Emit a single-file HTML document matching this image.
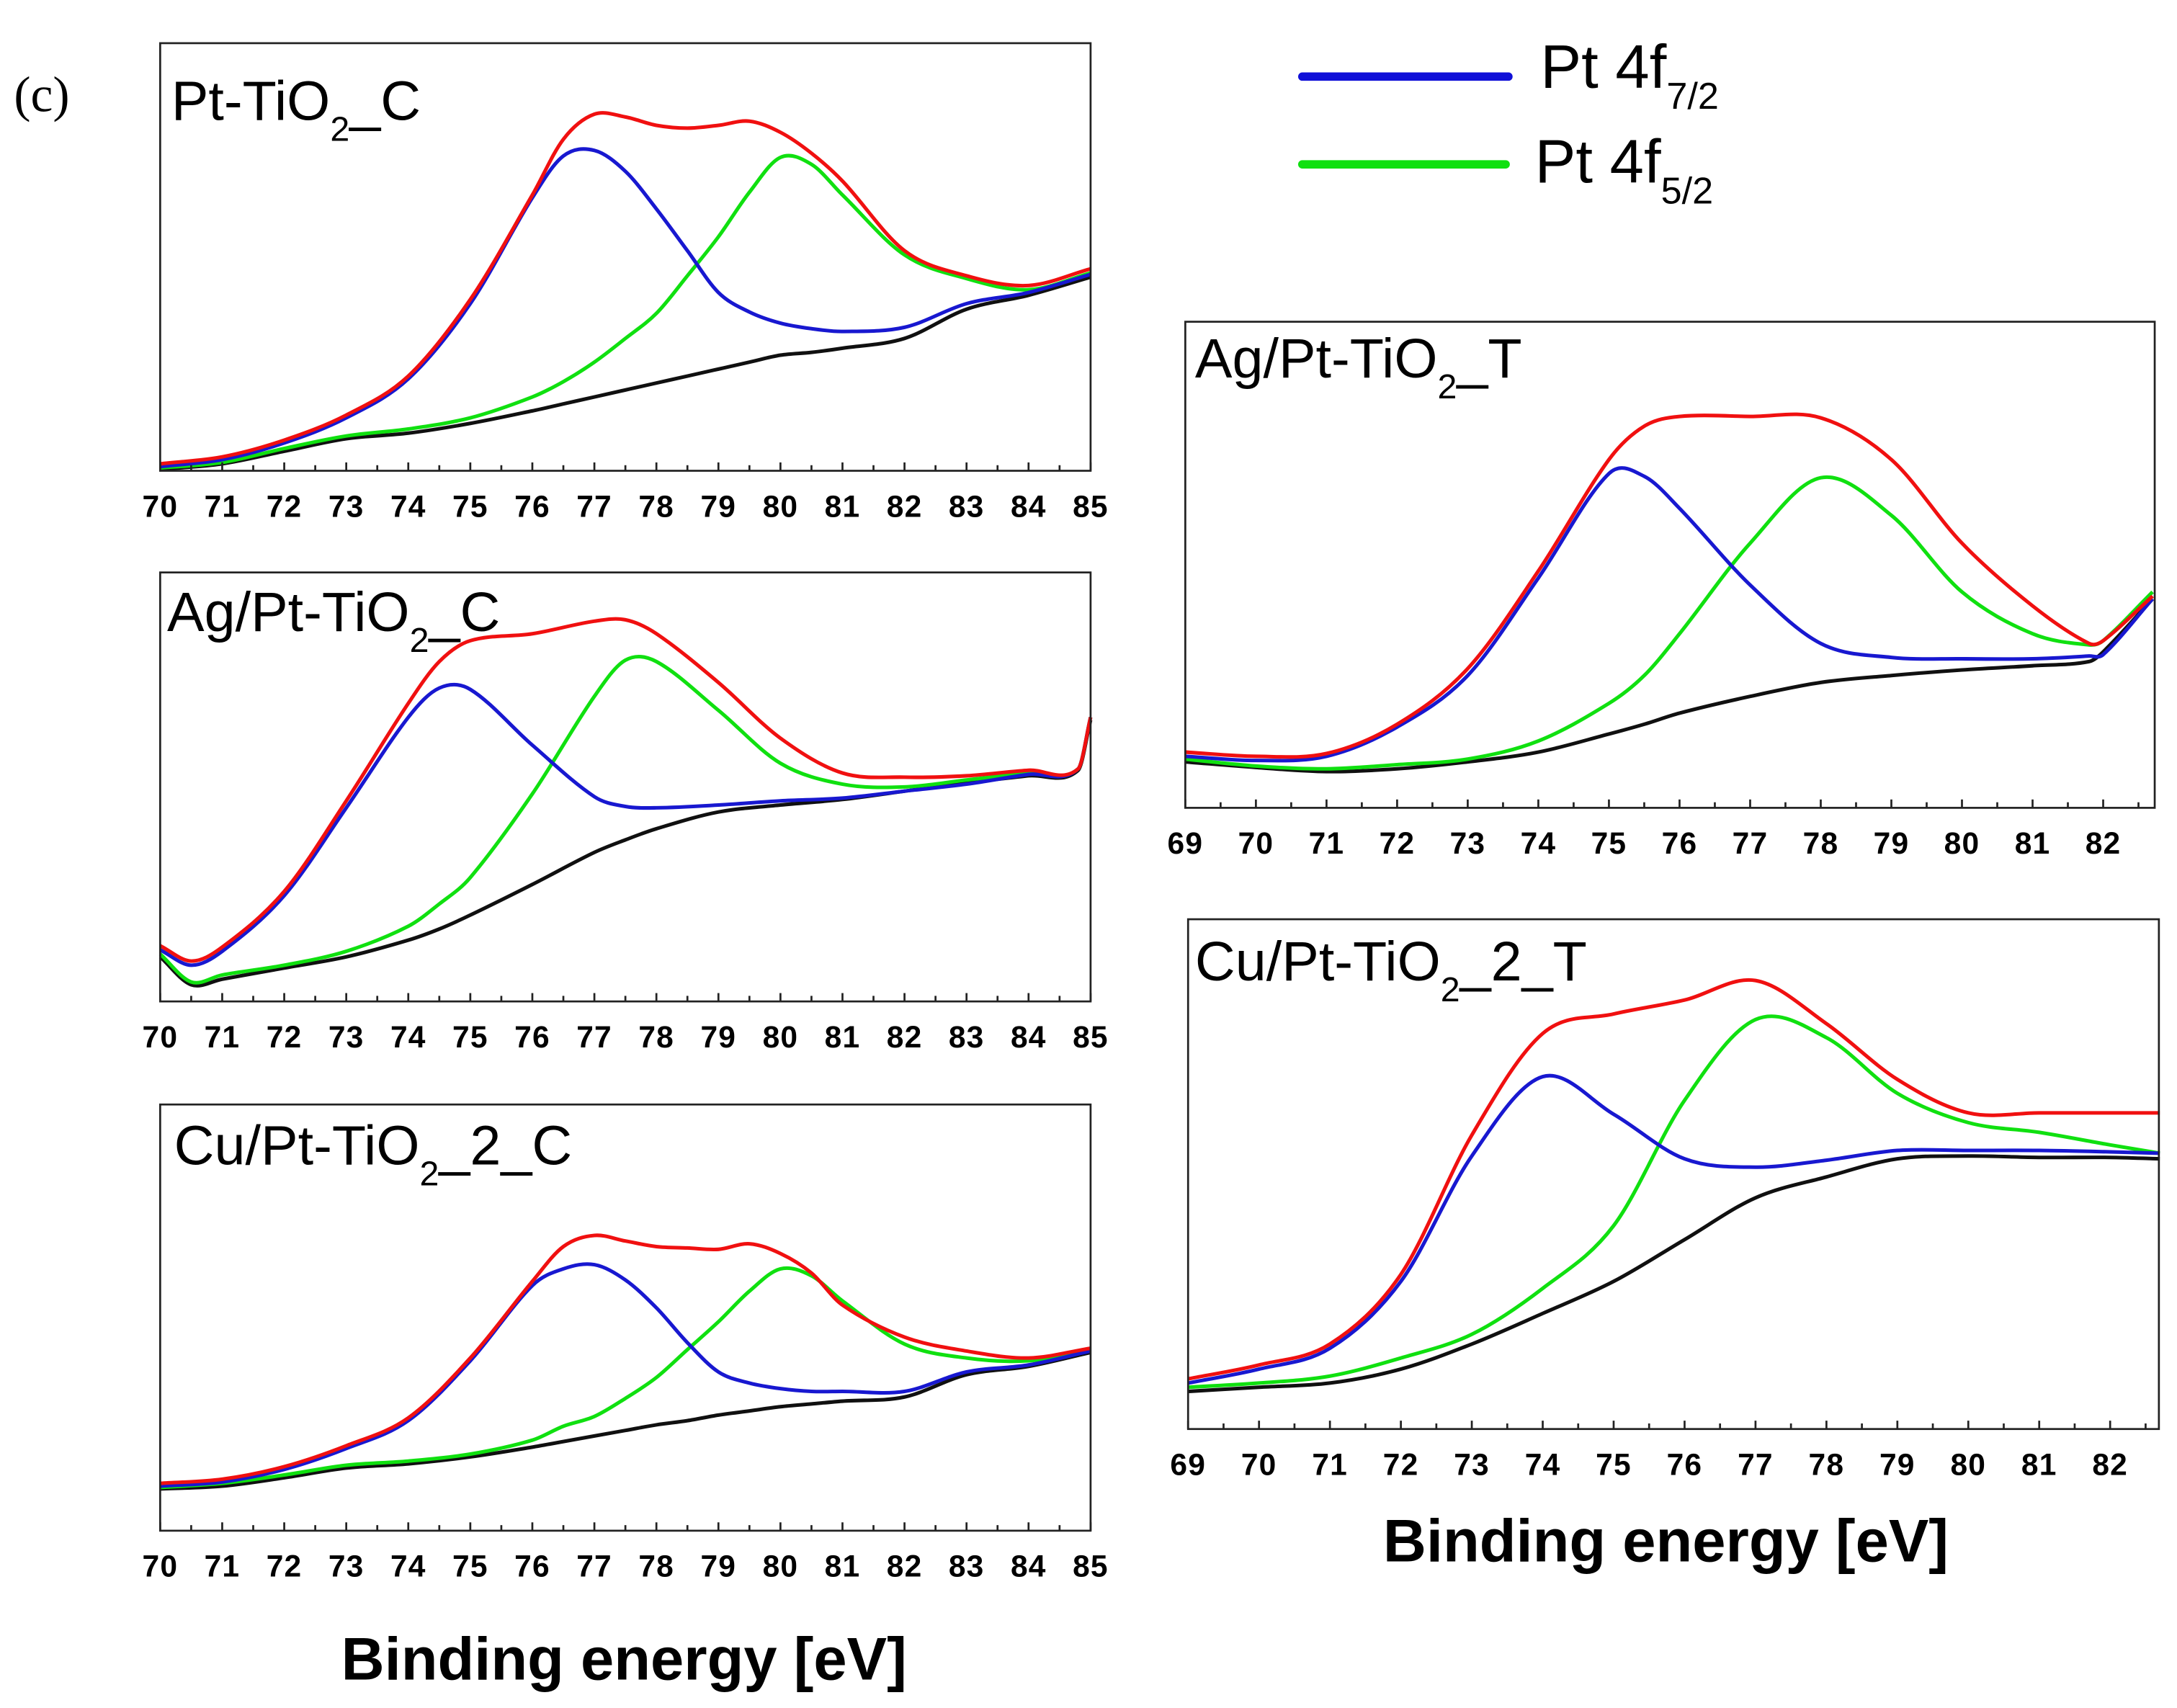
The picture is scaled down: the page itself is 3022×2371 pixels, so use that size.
<!DOCTYPE html>
<html><head><meta charset="utf-8">
<style>
html,body{margin:0;padding:0;background:#fff;}
svg{display:block;}
</style></head>
<body>
<svg id="fig" width="3022" height="2371" viewBox="0 0 1563 1226.3" xmlns="http://www.w3.org/2000/svg" style="font-family:'Liberation Sans',Arial,sans-serif">
<text x="10" y="80" style="font-family:'Liberation Serif',serif" font-size="36" fill="#000">(c)</text>
<g>
  <line x1="935" y1="55" x2="1083" y2="55" stroke="#1010d8" stroke-width="6" stroke-linecap="round"/>
  <text x="1106" y="63" font-size="44" fill="#000">Pt 4f<tspan font-size="27" dy="15">7/2</tspan></text>
  <line x1="935" y1="118" x2="1081" y2="118" stroke="#10e010" stroke-width="6" stroke-linecap="round"/>
  <text x="1102" y="131" font-size="44" fill="#000">Pt 4f<tspan font-size="27" dy="15">5/2</tspan></text>
</g>
<text x="448" y="1206" text-anchor="middle" font-size="43" font-weight="bold" fill="#000">Binding energy [eV]</text>
<text x="1196" y="1121" text-anchor="middle" font-size="43" font-weight="bold" fill="#000">Binding energy [eV]</text>
<g id="plots"></g>
</svg>
<script>
// ---- Panel 1: Pt-TiO2_C ----
const p1E = [70,71,72,73,74,75,76,76.5,77,77.5,78,78.5,79,79.5,80,80.5,81,82,83,84,85];
const p1Red   = [5,10,22,40,68,123,198,238,256,254,248,246,248,251,243,228,208,158,140,133,145];
const p1Blue  = [3,8,20,38,66,120,196,226,230,215,188,158,128,114,106,102,100,103,120,128,141];
const p1Green = [2,6,16,25,30,38,53,64,78,95,113,140,168,200,225,220,198,155,138,130,142];
const p1Black = [1,5,14,23,27,34,43,48,53,58,63,68,73,78,83,85,88,95,116,126,139];
// ---- Panel 2: Ag/Pt-TiO2_C ----
const p2E = [70,70.5,71,72,73,74,74.5,75,76,77,77.5,78,79,80,81,82,83,84,84.8,85];
const p2Red   = [40,29,39,79,144,214,244,259,264,273,274,264,229,189,164,161,162,166,167,204];
const p2Blue  = [37,26,36,76,139,204,225,224,184,147,140,139,141,144,146,151,156,163,167,204];
const p2Green = [34,14,19,26,36,54,70,89,149,219,245,244,209,171,156,154,159,164,167,204];
const p2Black = [32,12,16,24,32,44,52,62,84,107,116,124,136,141,145,151,157,162,166,202];
// ---- Panel 3: Cu/Pt-TiO2_2_C ----
const p3E = [70,71,72,73,74,75,76,76.5,77,77.5,78,78.5,79,79.5,80,80.5,81,82,83,84,85];
const p3Red   = [34,37,46,61,81,124,179,204,212,208,204,203,202,206,199,185,162,139,129,124,131];
const p3Blue  = [32,35,44,59,79,122,176,188,191,180,160,135,114,106,102,100,100,100,114,119,129];
const p3Green = [31,34,40,47,50,55,65,75,82,95,110,130,150,172,188,183,165,134,124,122,130];
const p3Black = [30,32,38,45,48,53,60,64,68,72,76,79,83,86,89,91,93,96,112,118,128];
// ---- Panel 4: Ag/Pt-TiO2_T ----
const p4E = [69,70,71,72,73,74,75,75.5,76,77,78,79,80,81,81.8,82,82.7];
const p4Red   = [40,37,39,60,100,170,250,274,281,281,280,250,190,145,118,120,152];
const p4Blue  = [37,34,37,58,95,165,240,238,215,160,118,108,107,107,109,110,150];
const p4Green = [35,30,28,31,35,48,75,95,125,190,237,210,155,125,117,120,155];
const p4Black = [33,29,26,28,33,40,53,60,68,80,90,95,99,102,105,112,150];
// ---- Panel 5: Cu/Pt-TiO2_2_T ----
const p5E = [69,70,71,72,73,74,75,76,77,78,79,80,81,82,82.7];
const p5Red   = [36,46,61,111,211,284,298,308,322,291,251,227,227,227,227];
const p5Blue  = [33,43,58,106,196,253,226,194,188,193,200,200,200,199,198];
const p5Green = [30,33,38,51,68,101,146,236,294,281,241,220,213,204,198];
const p5Black = [27,30,33,43,61,83,106,136,166,181,194,196,195,195,194];
// tick labels
const ticksC = [70,71,72,73,74,75,76,77,78,79,80,81,82,83,84,85];
const ticksT = [69,70,71,72,73,74,75,76,77,78,79,80,81,82];

const NS = 'http://www.w3.org/2000/svg';
const root = document.getElementById('plots');
const COLORS = {red:'#f01010', blue:'#1818d0', green:'#10e010', black:'#101010'};

function mk(tag, attrs, parent){
  const el = document.createElementNS(NS, tag);
  for (const k in attrs) el.setAttribute(k, attrs[k]);
  parent.appendChild(el);
  return el;
}
function smoothPath(pts){
  const n = pts.length;
  const m = [];
  for (let i=0;i<n;i++){
    const a = pts[Math.max(0,i-1)], b = pts[Math.min(n-1,i+1)];
    m.push((b[1]-a[1])/(b[0]-a[0]));
  }
  let d = 'M' + pts[0][0].toFixed(2) + ' ' + pts[0][1].toFixed(2);
  for (let i=0;i<n-1;i++){
    const p1 = pts[i], p2 = pts[i+1], dx = (p2[0]-p1[0])/3;
    d += ' C'+(p1[0]+dx).toFixed(2)+' '+(p1[1]+m[i]*dx).toFixed(2)+' '+(p2[0]-dx).toFixed(2)+' '+(p2[1]-m[i+1]*dx).toFixed(2)+' '+p2[0].toFixed(2)+' '+p2[1].toFixed(2);
  }
  return d;
}
function panel(cfg){
  const g = mk('g', {}, root);
  
  
  const xs = e => cfg.x0 + (e - cfg.e0) * (cfg.x1 - cfg.x0) / (cfg.e1 - cfg.e0);
  const ys = v => cfg.yb - v * (cfg.yb - cfg.yt) / cfg.ymax;
  const series = [['black',cfg.black],['green',cfg.green],['blue',cfg.blue],['red',cfg.red]];
  for (const [nm, vals] of series){
    const pts = cfg.E.map((e,i)=>[xs(e), ys(vals[i])]);
    const p = mk('path', {d: smoothPath(pts), fill:'none', stroke: COLORS[nm], 'stroke-width':'2.6', 'stroke-linejoin':'round'}, g);
    
    
  }
  const fr = mk('rect', {x:cfg.x0, y:cfg.yt, width:(cfg.xr - cfg.x0), height:(cfg.yb-cfg.yt), fill:'none', stroke:'#222', 'stroke-width':'1.4'}, g);
  
  
  for (let e = cfg.e0; e <= cfg.emaxTick + 0.01; e += 0.5){
    const major = Math.abs(e - Math.round(e)) < 0.01;
    const x = xs(e);
    const tk = mk('line', {x1:x, x2:x, y1:cfg.yb, y2:cfg.yb - (major?6:4), stroke:'#222', 'stroke-width':'1.4'}, g);
    
    
  }
  for (const t of cfg.ticks){
    const tx = mk('text', {x: xs(t), y: cfg.yb + 33, 'text-anchor':'middle', 'font-size':'22', 'font-weight':'bold', 'letter-spacing':'0.6', fill:'#000'}, g);
    tx.textContent = String(t);
    
    
  }
  const tt = mk('text', {x: cfg.tx, y: cfg.ty, 'font-size':'40', fill:'#000'}, g);
  
  
  tt.appendChild(document.createTextNode(cfg.t1));
  const sub = mk('tspan', {'font-size':'25', dy:'15'}, tt);
  sub.textContent = '2';
  const rest = mk('tspan', {dy:'-15'}, tt);
  rest.textContent = cfg.t2;
}
panel({name:'panel-pt-tio2-c', E:p1E, red:p1Red, blue:p1Blue, green:p1Green, black:p1Black,
  x0:115, x1:783, xr:783, e0:70, e1:85, emaxTick:85, yt:31, yb:338, ymax:307, ticks:ticksC,
  tx:123, ty:86, t1:'Pt-TiO', t2:'_C'});
panel({name:'panel-ag-pt-tio2-c', E:p2E, red:p2Red, blue:p2Blue, green:p2Green, black:p2Black,
  x0:115, x1:783, xr:783, e0:70, e1:85, emaxTick:85, yt:411, yb:719, ymax:308, ticks:ticksC,
  tx:120, ty:453, t1:'Ag/Pt-TiO', t2:'_C'});
panel({name:'panel-cu-pt-tio2-2-c', E:p3E, red:p3Red, blue:p3Blue, green:p3Green, black:p3Black,
  x0:115, x1:783, xr:783, e0:70, e1:85, emaxTick:85, yt:793, yb:1099, ymax:306, ticks:ticksC,
  tx:125, ty:836, t1:'Cu/Pt-TiO', t2:'_2_C'});
panel({name:'panel-ag-pt-tio2-t', E:p4E, red:p4Red, blue:p4Blue, green:p4Green, black:p4Black,
  x0:851, x1:1510, xr:1547, e0:69, e1:82, emaxTick:82.5, yt:231, yb:580, ymax:349, ticks:ticksT,
  tx:858, ty:271, t1:'Ag/Pt-TiO', t2:'_T'});
panel({name:'panel-cu-pt-tio2-2-t', E:p5E, red:p5Red, blue:p5Blue, green:p5Green, black:p5Black,
  x0:853, x1:1515, xr:1550, e0:69, e1:82, emaxTick:82.5, yt:660, yb:1026, ymax:366, ticks:ticksT,
  tx:858, ty:704, t1:'Cu/Pt-TiO', t2:'_2_T'});
</script>
</body></html>
